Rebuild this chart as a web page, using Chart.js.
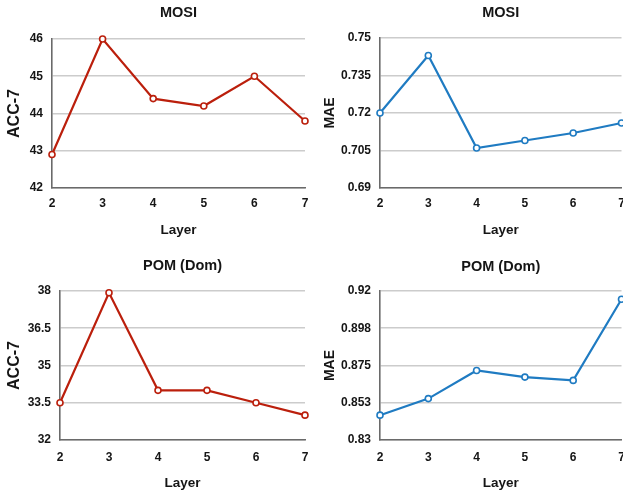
<!DOCTYPE html>
<html><head><meta charset="utf-8">
<script src="https://cdn.jsdelivr.net/npm/chart.js@4"></script>
<style>
html,body{margin:0;padding:0;background:#fff;}
#wrap{position:relative;width:623px;height:492px;overflow:hidden;background:#fff;}
canvas{position:absolute;}
</style></head><body>
<div id="wrap">
<canvas id="c1" width="315" height="245" style="left:0;top:0"></canvas>
<canvas id="c2" width="320" height="245" style="left:315px;top:0"></canvas>
<canvas id="c3" width="315" height="247" style="left:0;top:245px"></canvas>
<canvas id="c4" width="320" height="247" style="left:315px;top:245px"></canvas>
</div>
<script>
// ---- data ----
const layers = ["2", "3", "4", "5", "6", "7"];
const accMosi = [42.9, 46.0, 44.4, 44.2, 45.0, 43.8];
const maeMosi = [0.720, 0.743, 0.706, 0.709, 0.712, 0.716];
const accPom = [33.5, 37.93, 34.0, 34.0, 33.5, 33.0];
const maePom = [0.845, 0.855, 0.872, 0.868, 0.866, 0.915];

const accMosiTicks = [42, 43, 44, 45, 46];
const accMosiTickLabels = ["42", "43", "44", "45", "46"];
const maeMosiTicks = [0.69, 0.705, 0.72, 0.735, 0.75];
const maeMosiTickLabels = ["0.69", "0.705", "0.72", "0.735", "0.75"];
const accPomTicks = [32, 33.5, 35, 36.5, 38];
const accPomTickLabels = ["32", "33.5", "35", "36.5", "38"];
const maePomTicks = [0.83, 0.8525, 0.875, 0.8975, 0.92];
const maePomTickLabels = ["0.83", "0.853", "0.875", "0.898", "0.92"];

const titleMosi = "MOSI";
const titlePom = "POM (Dom)";
const yTitleAcc = "ACC-7";
const yTitleMae = "MAE";
const xTitle = "Layer";

// ---- styling ----
const FAM = "'Liberation Sans', Arial, Helvetica, sans-serif";
const RED = "#bb1f0c";
const BLUE = "#1f7bc2";
const TXT = "#151515";

function make(id, o) {
  new Chart(document.getElementById(id), {
    type: 'line',
    data: {
      labels: layers,
      datasets: [{
        data: o.data,
        borderColor: o.color,
        borderWidth: 2.2,
        pointRadius: 3,
        pointBorderWidth: 1.6,
        pointBackgroundColor: '#fff',
        pointBorderColor: o.color,
        tension: 0,
        clip: false
      }]
    },
    options: {
      responsive: false,
      animation: false,
      events: [],
      layout: { padding: { left: 0, right: o.padRight, top: 0, bottom: 0 } },
      plugins: {
        legend: { display: false },
        tooltip: { enabled: false },
        title: {
          display: true, text: o.title, color: TXT, fullSize: false,
          font: { family: FAM, size: 14.5, weight: 'bold', lineHeight: 1.2 },
          padding: { top: o.tPadTop, bottom: o.tPadBottom }
        }
      },
      scales: {
        x: {
          type: 'category',
          offset: false,
          grid: { display: false, drawTicks: false },
          border: { display: true, color: '#6a6a6a', width: 1.6 },
          ticks: { color: TXT, padding: o.xTickPad, maxRotation: 0, autoSkip: false,
                   font: { family: FAM, size: 12, weight: 'bold' } },
          title: { display: true, text: xTitle, color: TXT,
                   font: { family: FAM, size: 13.5, weight: 'bold', lineHeight: 1.2 },
                   padding: { top: 0, bottom: o.xTitlePadBottom } },
          afterFit: s => { s.height = o.xAxisH; s.paddingLeft = 0; s.paddingRight = 0; }
        },
        y: {
          type: 'linear',
          min: o.ticks[0], max: o.ticks[o.ticks.length - 1],
          afterBuildTicks: s => { s.ticks = o.ticks.map(v => ({ value: v })); },
          grid: { display: true, drawTicks: false, color: '#cccccc', lineWidth: 1.6 },
          border: { display: true, color: '#6a6a6a', width: 1.6 },
          ticks: { color: TXT, padding: 9,
                   font: { family: FAM, size: 12, weight: 'bold' },
                   callback: (v, i) => o.tickLabels[i] },
          title: { display: true, text: o.yTitle, color: TXT,
                   font: { family: FAM, size: o.yTitleSize, weight: 'bold', lineHeight: 1.2 },
                   padding: { top: o.yTitlePadTop, bottom: 0 } },
          afterFit: s => { s.width = o.yAxisW; }
        }
      }
    }
  });
}

make('c1', { data: accMosi, color: RED, ticks: accMosiTicks, tickLabels: accMosiTickLabels,
  title: titleMosi, yTitle: yTitleAcc, yTitleSize: 16, yTitlePadTop: 4.5,
  tPadTop: 4.3, tPadBottom: 17.3, yAxisW: 52, xAxisH: 57, xTickPad: 8, xTitlePadBottom: 7.0, padRight: 10 });
make('c2', { data: maeMosi, color: BLUE, ticks: maeMosiTicks, tickLabels: maeMosiTickLabels,
  title: titleMosi, yTitle: yTitleMae, yTitleSize: 14, yTitlePadTop: 6.6,
  tPadTop: 4.3, tPadBottom: 16.3, yAxisW: 65, xAxisH: 57, xTickPad: 8, xTitlePadBottom: 7.0, padRight: 13.5 });
make('c3', { data: accPom, color: RED, ticks: accPomTicks, tickLabels: accPomTickLabels,
  title: titlePom, yTitle: yTitleAcc, yTitleSize: 16, yTitlePadTop: 4.5,
  tPadTop: 12.3, tPadBottom: 16.3, yAxisW: 60, xAxisH: 52, xTickPad: 10, xTitlePadBottom: 1.0, padRight: 10 });
make('c4', { data: maePom, color: BLUE, ticks: maePomTicks, tickLabels: maePomTickLabels,
  title: titlePom, yTitle: yTitleMae, yTitleSize: 14, yTitlePadTop: 6.6,
  tPadTop: 13.3, tPadBottom: 15.3, yAxisW: 65, xAxisH: 52, xTickPad: 10, xTitlePadBottom: 1.0, padRight: 13.5 });
</script>
</body></html>
